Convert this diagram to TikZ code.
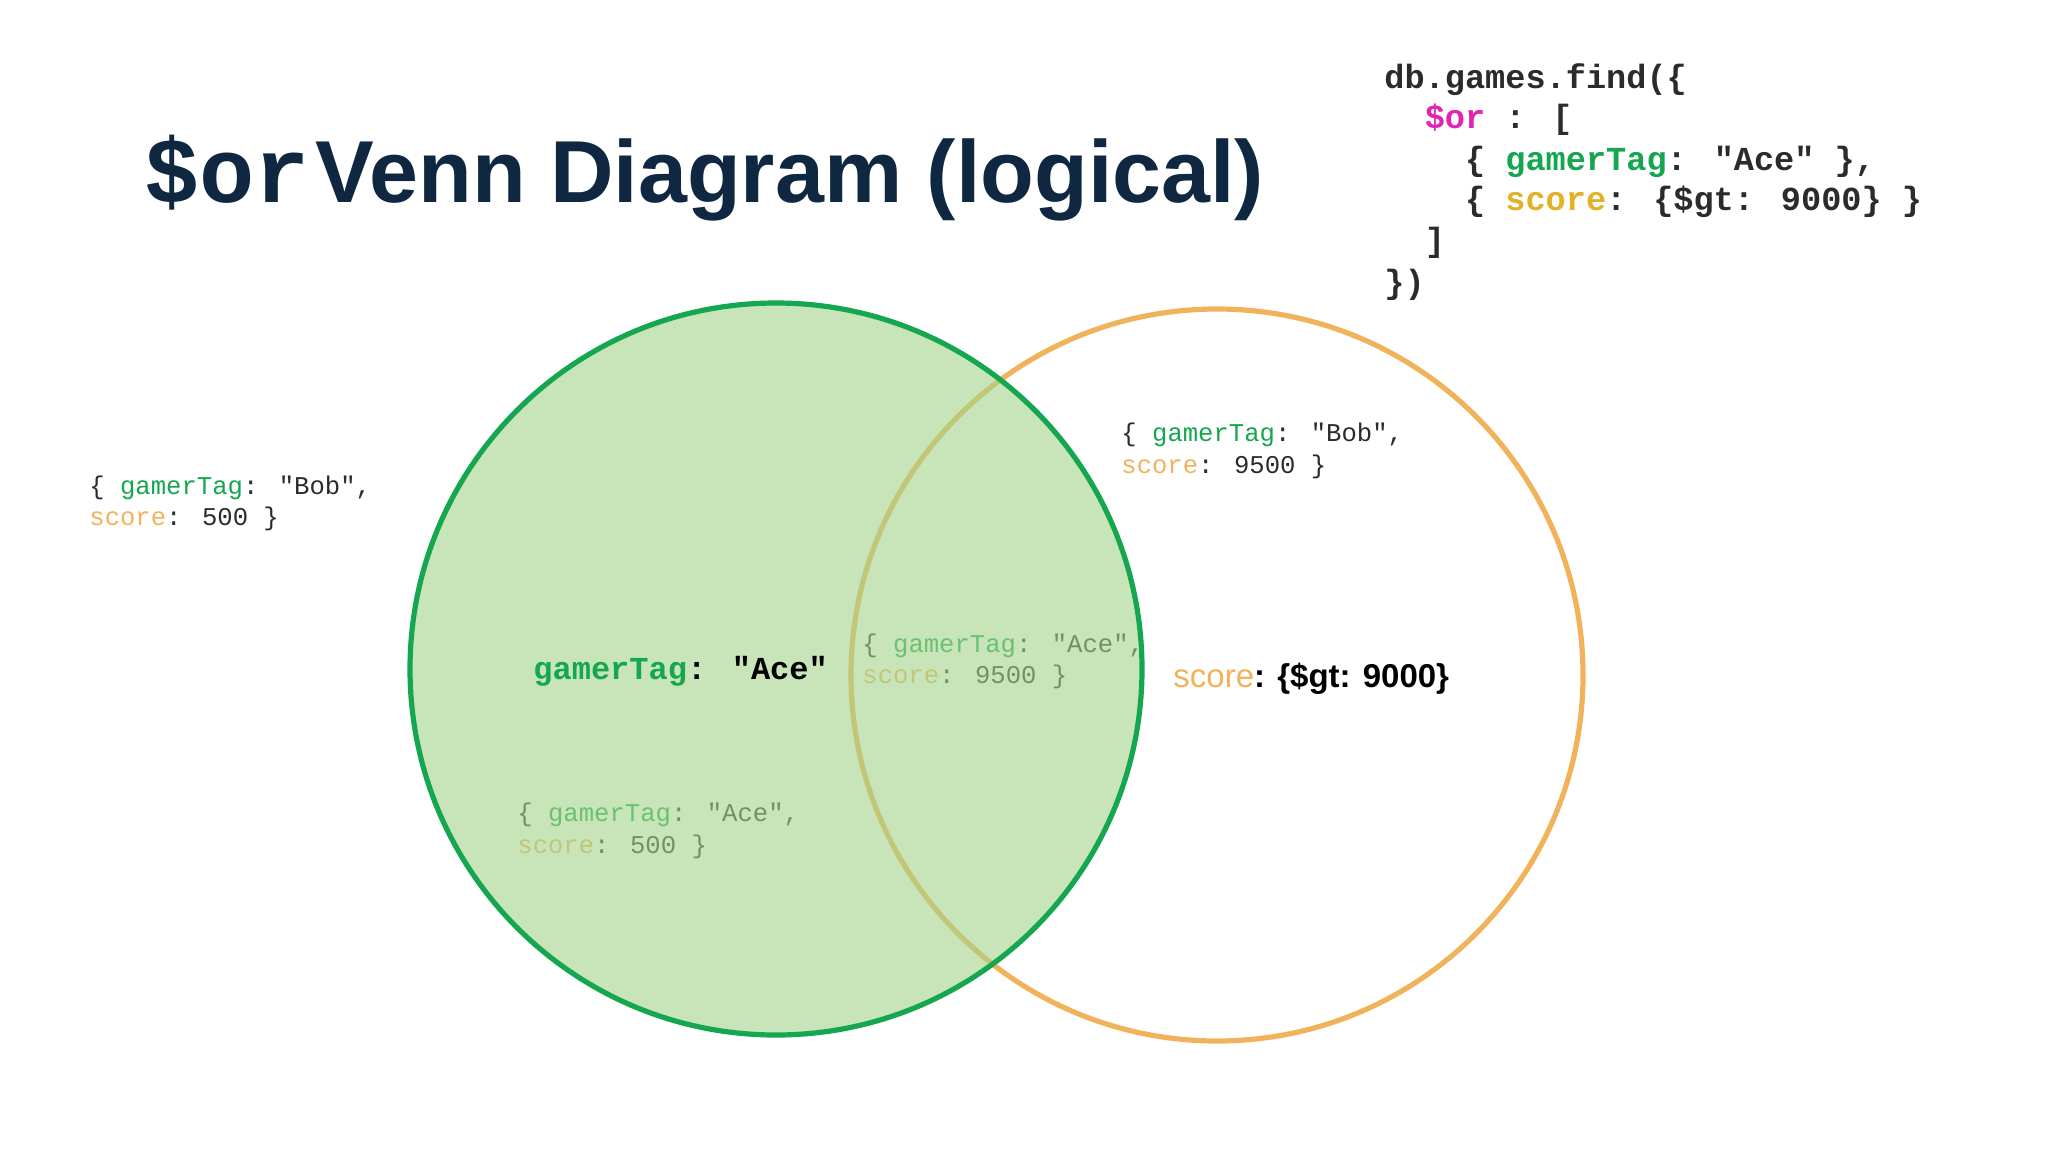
\documentclass[tikz,border=0pt]{standalone}
\usepackage{fontspec}
\setmainfont{Liberation Sans}
\newfontfamily\monof{Liberation Mono}
\definecolor{navy}{HTML}{0F2740}
\definecolor{grn}{HTML}{15A650}
\definecolor{grnfill}{HTML}{A4D38A}
\definecolor{org}{HTML}{F0B35C}
\definecolor{gold}{HTML}{E2B125}
\definecolor{mag}{HTML}{E024B4}
\definecolor{dk}{HTML}{2B2B2B}
\tikzset{
  code/.style={anchor=base west, inner sep=0pt, text=dk, font=\monof\bfseries\fontsize{16.8}{20}\selectfont},
  small/.style={anchor=base west, inner sep=0pt, text=dk, font=\monof\fontsize{12.8}{15}\selectfont},
}
\newcommand{\mygt}{\textcolor{grn}{gamerTag}}
\newcommand{\mysc}{\textcolor{org}{score}}
\begin{document}
\begin{tikzpicture}[x=0.5pt,y=-0.5pt]
\useasboundingbox (0,0) rectangle (2048,1152);
% title
\node (title) [anchor=base west, inner sep=0pt, text=navy] at (144,202)
  {{\monof\bfseries\fontsize{46}{50}\selectfont \$or} {\bfseries\fontsize{44}{50}\selectfont Venn Diagram (logical)}};
% code
\node (c1) [code] at (1384,88) {db.games.find(\{};
\node (c2) [code] at (1384,128) {\ \ \textcolor{mag}{\$or} : [};
\node (c3) [code] at (1384,170) {\ \ \ \ \{ \textcolor{grn}{gamerTag}: "Ace" \},};
\node (c4) [code] at (1384,210) {\ \ \ \ \{ \textcolor{gold}{score}: \{\$gt: 9000\} \}};
\node (c5) [code] at (1384,251) {\ \ ]};
\node (c6) [code] at (1384,293) {\})};
% circles
\draw[org, line width=2.6pt] (1217,675) circle (366);
% small docs
\node (l1) [small] at (89,494) {\{ \mygt: "Bob",};
\node (l2) [small] at (89,525) {\mysc: 500 \}};
\node (r1) [small] at (1121,441) {\{ \mygt: "Bob",};
\node (r2) [small] at (1121,473) {\mysc: 9500 \}};
\node (i1) [small] at (862,652) {\{ \mygt: "Ace",};
\node (i2) [small] at (862,683) {\mysc: 9500 \}};
\node (b1) [small] at (517,821) {\{ \mygt: "Ace",};
\node (b2) [small] at (517,853) {\mysc: 500 \}};
% green circle
\fill[grnfill, fill opacity=0.6] (776,669) circle (366);
\draw[grn, line width=2.6pt] (776,669) circle (366);
% labels
\node (ga) [anchor=base west, inner sep=0pt, text=black, font=\monof\bfseries\fontsize{16}{20}\selectfont] at (533,679) {\textcolor{grn}{gamerTag}: "Ace"};
\node (sg) [anchor=base west, inner sep=0pt, font=\bfseries\fontsize{16.5}{20}\selectfont] at (1173,687) {\textcolor{org}{\mdseries score}: \{\$gt: 9000\}};
\end{tikzpicture}
\end{document}
